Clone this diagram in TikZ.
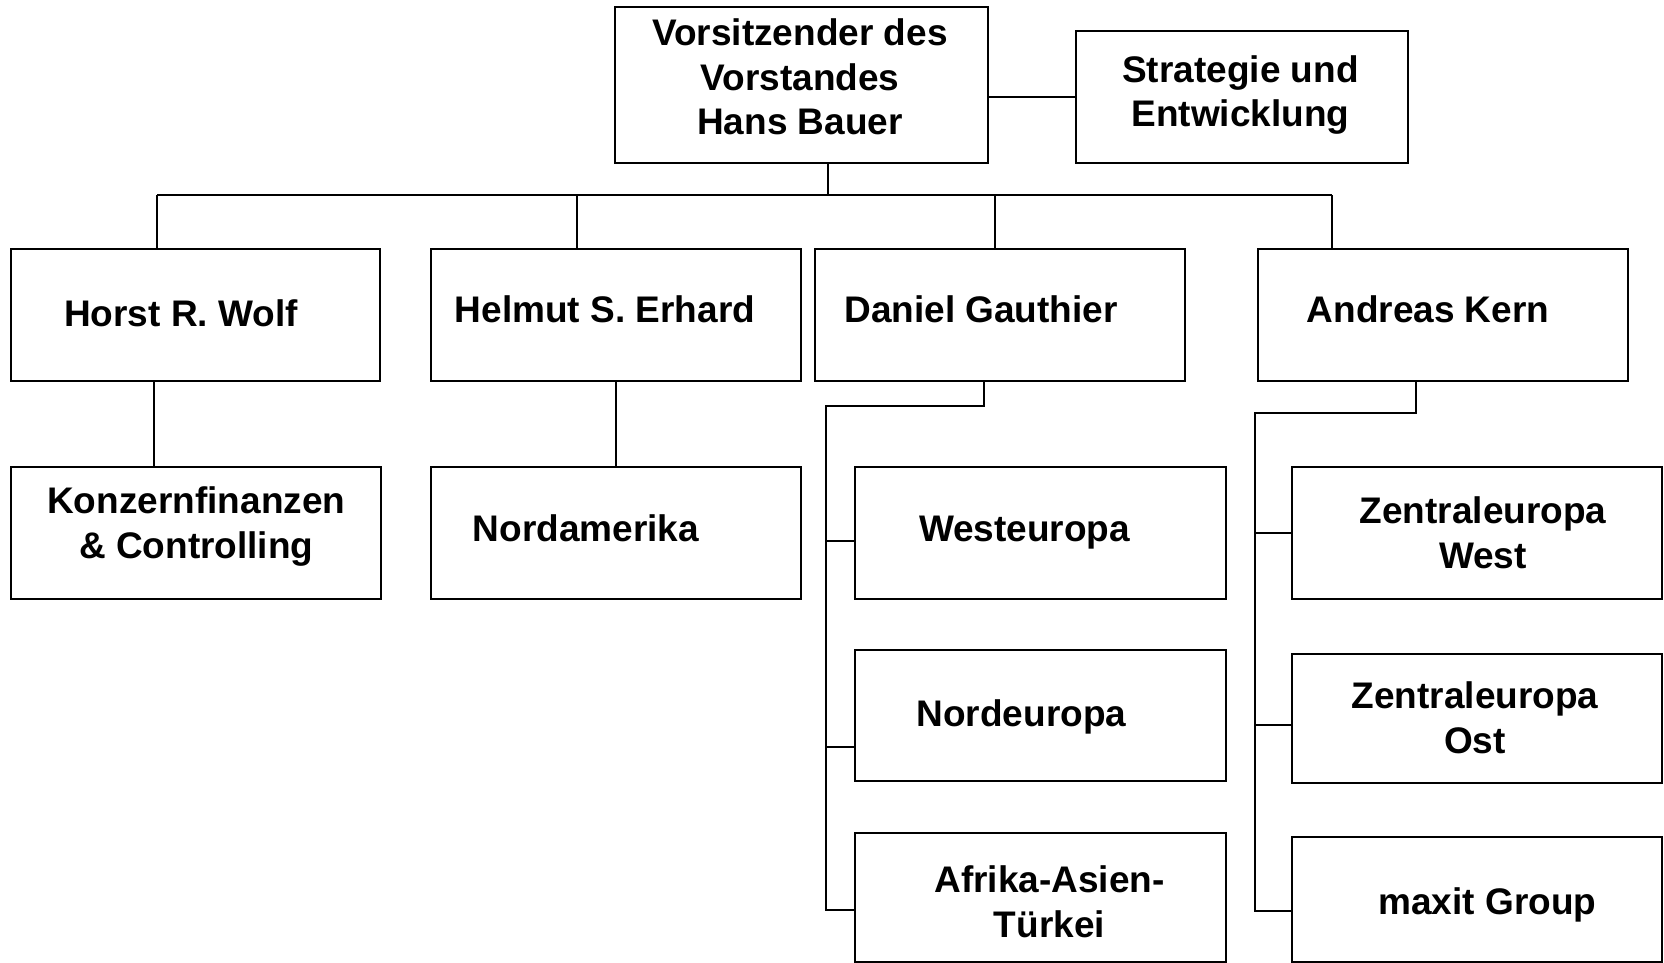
\documentclass[tikz,border=0pt]{standalone}
\usepackage{fontspec}
\setmainfont{Liberation Sans}
\usetikzlibrary{fit}
\begin{document}
\begin{tikzpicture}[x=0.5pt,y=-0.5pt,
  box/.style={draw, line width=1pt, inner sep=0pt, rectangle},
  lbl/.style={font=\fontsize{18.5}{22.3}\selectfont\bfseries, align=center, inner sep=0pt},
  conn/.style={line width=1pt}]
\useasboundingbox (0,0) rectangle (1664,963);
% boxes
\node[box, fit={(615,7.4) (988,163.4)}] (chair) {};
\node[box, fit={(1076,30.8) (1408,163.4)}] (strat) {};
\node[box, fit={(10.6,249.4) (380,381)}] (horst) {};
\node[box, fit={(431,249.4) (801.2,381)}] (helmut) {};
\node[box, fit={(815,249.4) (1185.4,381)}] (daniel) {};
\node[box, fit={(1257.5,249.4) (1628,381)}] (andreas) {};
\node[box, fit={(10.6,467) (381,598.5)}] (konz) {};
\node[box, fit={(431,467) (801.2,598.5)}] (nordam) {};
\node[box, fit={(855.3,467) (1225.7,598.5)}] (west) {};
\node[box, fit={(855.3,649.5) (1225.7,781)}] (nord) {};
\node[box, fit={(855.3,833) (1225.7,961.5)}] (afr) {};
\node[box, fit={(1291.5,467) (1661.8,598.5)}] (zw) {};
\node[box, fit={(1291.5,653.7) (1661.8,783.2)}] (zo) {};
\node[box, fit={(1291.5,837.3) (1661.8,961.5)}] (maxit) {};
% texts
\node[lbl] (chairT) at (800,77) {Vorsitzender des\\Vorstandes\\Hans Bauer};
\node[lbl] (stratT) at (1240.5,95.2) {Strategie und\\Entwicklung};
\node[lbl] (horstT) at (181,313) {Horst R. Wolf};
\node[lbl] (helmutT) at (605,309) {Helmut S. Erhard};
\node[lbl] (danielT) at (981,309) {Daniel Gauthier};
\node[lbl] (andreasT) at (1428,309) {Andreas Kern};
\node[lbl] (konzT) at (196.3,526.5) {Konzernfinanzen\\\& Controlling};
\node[lbl] (nordamT) at (585.8,528.5) {Nordamerika};
\node[lbl] (westT) at (1024.6,532.7) {Westeuropa};
\node[lbl] (nordT) at (1021.4,717.2) {Nordeuropa};
\node[lbl] (afrT) at (1049.5,902) {Afrika-Asien-\\Türkei};
\node[lbl] (zwT) at (1483,532.5) {Zentraleuropa\\West};
\node[lbl] (zoT) at (1475,717.9) {Zentraleuropa\\Ost};
\node[lbl] (maxitT) at (1487.3,905.2) {maxit Group};
% connectors top
\draw[conn] (strat.west -| chair.east) -- (strat.west);
\coordinate (cd) at (828,195.3);
\coordinate (b1) at (157,195.3);
\coordinate (b2) at (577.3,195.3);
\coordinate (b3) at (995.4,195.3);
\coordinate (b4) at (1331.8,195.3);
\draw[conn] (chair.south -| cd) -- (cd);
\draw[conn] (b1) -- (b4);
\draw[conn] (b1) -- (b1 |- horst.north);
\draw[conn] (b2) -- (b2 |- helmut.north);
\draw[conn] (b3) -- (b3 |- daniel.north);
\draw[conn] (b4) -- (b4 |- andreas.north);
% second row
\coordinate (hx) at (154,0);
\draw[conn] (horst.south -| hx) -- (konz.north -| hx);
\draw[conn] (helmut.south) -- (nordam.north);
% Daniel branch
\coordinate (dx) at (983.7,406.4);
\coordinate (dt) at (825.6,406.4);
\coordinate (d1) at (825.6,541.2);
\coordinate (d2) at (825.6,747);
\coordinate (d3) at (825.6,909.5);
\draw[conn] (daniel.south -| dx) -- (dx) -- (dt) -- (d3) -- (d3 -| afr.west);
\draw[conn] (d1) -- (d1 -| west.west);
\draw[conn] (d2) -- (d2 -| nord.west);
% Andreas branch
\coordinate (ax) at (1415.6,412.8);
\coordinate (at) at (1255.4,412.8);
\coordinate (a1) at (1255.4,532.7);
\coordinate (a2) at (1255.4,724.8);
\coordinate (a3) at (1255.4,910.5);
\draw[conn] (andreas.south -| ax) -- (ax) -- (at) -- (a3) -- (a3 -| maxit.west);
\draw[conn] (a1) -- (a1 -| zw.west);
\draw[conn] (a2) -- (a2 -| zo.west);
\end{tikzpicture}
\end{document}
